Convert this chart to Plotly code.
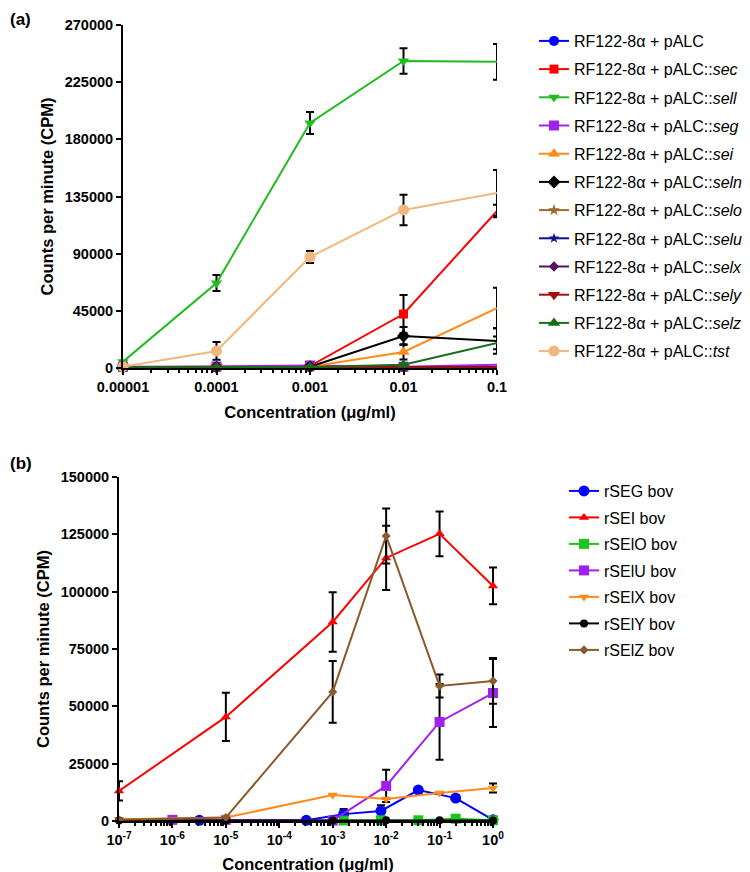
import plotly.graph_objects as go

# panel (a): recombinant strains, concentrations in ug/ml
conc_a = [0.00001, 0.0001, 0.001, 0.01, 0.1]
conc_a_labels = ['0.00001', '0.0001', '0.001', '0.01', '0.1']

palc = [800, 900, 1000, 500, 800]
palc_sec = [500, 800, 1500, 42500, 123600]
palc_sec_err = [0, 0, 0, 15000, 5000]
palc_sell = [5000, 66900, 192900, 241700, 241000]
palc_sell_err = [0, 6300, 8700, 10000, 14000]
palc_seg = [1000, 1200, 2000, 1000, 2500]
palc_sei = [500, 500, 1000, 12600, 47200]
palc_sei_err = [0, 0, 0, 6000, 16000]
palc_seln = [500, 500, 1000, 25200, 21300]
palc_seln_err = [0, 0, 0, 7000, 10000]
palc_selo = [500, 500, 800, 500, 500]
palc_selu = [500, 500, 500, 500, 500]
palc_selx = [500, 500, 600, 500, 500]
palc_sely = [500, 500, 600, 500, 500]
palc_selz = [500, 500, 800, 2500, 19700]
palc_selz_err = [0, 0, 0, 0, 5000]
palc_tst = [1000, 13400, 87400, 124400, 137800]
palc_tst_err = [0, 7000, 4700, 12000, 18000]

# panel (b): purified recombinant toxins
conc_b = [1e-7, 1e-5, 1e-3, 1e-2, 1e-1, 1]
conc_b_ticks = [1e-7, 1e-6, 1e-5, 1e-4, 1e-3, 1e-2, 1e-1, 1]
conc_b_labels = ['10<sup>-7</sup>', '10<sup>-6</sup>', '10<sup>-5</sup>', '10<sup>-4</sup>',
                 '10<sup>-3</sup>', '10<sup>-2</sup>', '10<sup>-1</sup>', '10<sup>0</sup>']

seg_conc = [3.2e-6, 3.2e-4, 1.6e-3, 8e-3, 0.04, 0.2, 1]
seg_bov = [300, 300, 3000, 4400, 13500, 10000, 500]
seg_bov_err = [0, 0, 2200, 2500, 0, 0, 0]
sei_bov = [13100, 45400, 86800, 114700, 125200, 102500]
sei_bov_err = [4200, 10500, 13000, 14000, 9800, 8000]
selo_conc = [1.6e-3, 8e-3, 0.04, 0.2, 1]
selo_bov = [200, 300, 300, 1000, 300]
selu_conc = [1e-6, 1e-5, 1e-3, 1e-2, 1e-1, 1]
selu_bov = [500, 500, 200, 15300, 43200, 55800]
selu_bov_err = [0, 0, 0, 7000, 16500, 14800]
selx_bov = [800, 1500, 11300, 9600, 12200, 14400]
selx_bov_err = [0, 0, 0, 0, 0, 2000]
sely_bov = [200, 200, 200, 300, 300, 200]
selz_bov = [500, 1500, 56300, 124300, 58900, 61100]
selz_bov_err = [0, 0, 13500, 12000, 5000, 10000]

FONT = 'Liberation Sans, Arial, sans-serif'
prefix = 'RF122-8\u03b1 + pALC'

series_a = [
    (prefix, palc, None, '#0000FF', 'circle', 10),
    (prefix + '::<i>sec</i>', palc_sec, palc_sec_err, '#FF0000', 'square', 9),
    (prefix + '::<i>sell</i>', palc_sell, palc_sell_err, '#22BB22', 'triangle-down', 10),
    (prefix + '::<i>seg</i>', palc_seg, None, '#A020F0', 'square', 10),
    (prefix + '::<i>sei</i>', palc_sei, palc_sei_err, '#FF8C1A', 'triangle-up', 11),
    (prefix + '::<i>seln</i>', palc_seln, palc_seln_err, '#000000', 'diamond', 10),
    (prefix + '::<i>selo</i>', palc_selo, None, '#9B6A2E', 'star', 9),
    (prefix + '::<i>selu</i>', palc_selu, None, '#101080', 'star', 8),
    (prefix + '::<i>selx</i>', palc_selx, None, '#5A1060', 'diamond', 8),
    (prefix + '::<i>sely</i>', palc_sely, None, '#A01010', 'triangle-down', 11),
    (prefix + '::<i>selz</i>', palc_selz, palc_selz_err, '#1B6B1B', 'triangle-up', 11),
    (prefix + '::<i>tst</i>', palc_tst, palc_tst_err, '#F2B77D', 'circle', 11),
]

series_b = [
    ('rSEG bov', seg_conc, seg_bov, seg_bov_err, '#0000FF', 'circle', 11),
    ('rSEI bov', conc_b, sei_bov, sei_bov_err, '#FF0000', 'triangle-up', 9),
    ('rSElO bov', selo_conc, selo_bov, None, '#1CC41C', 'square', 10),
    ('rSElU bov', selu_conc, selu_bov, selu_bov_err, '#A020F0', 'square', 10),
    ('rSElX bov', conc_b, selx_bov, selx_bov_err, '#FF8C1A', 'triangle-down', 9),
    ('rSElY bov', conc_b, sely_bov, None, '#000000', 'circle', 8),
    ('rSElZ bov', conc_b, selz_bov, selz_bov_err, '#8B5A2B', 'diamond', 7),
]


def err_dict(err):
    if err is None:
        return None
    return dict(type='data', array=err, visible=True, color='black', thickness=2, width=4)


fig = go.Figure()

for i, (name, vals, err, color, symbol, size) in enumerate(series_a):
    fig.add_trace(go.Scatter(
        x=conc_a, y=vals, name=name, mode='lines+markers',
        line=dict(color=color, width=2),
        marker=dict(color=color, symbol=symbol, size=size),
        error_y=err_dict(err), cliponaxis=False,
        xaxis='x', yaxis='y', legend='legend', legendgroup='a%d' % i,
    ))

for i, (name, xs, vals, err, color, symbol, size) in enumerate(series_b):
    fig.add_trace(go.Scatter(
        x=xs, y=vals, name=name, mode='lines+markers',
        line=dict(color=color, width=2),
        marker=dict(color=color, symbol=symbol, size=size),
        error_y=err_dict(err), cliponaxis=False,
        xaxis='x2', yaxis='y2', legend='legend2', legendgroup='b%d' % i,
    ))

W, H = 750, 872
OFF = 8  # the page body adds an 8px margin around the figure
tickfont = dict(family=FONT, size=14.5, color='black', weight='bold')
titlefont = dict(family=FONT, size=16.5, color='black', weight='bold')

axis_common = dict(
    showline=True, linecolor='black', linewidth=2, showgrid=False, zeroline=False,
    ticks='outside', ticklen=5, tickwidth=2, tickcolor='black', tickfont=tickfont,
    automargin=False,
)
minor_ticks = dict(dtick='D1', ticks='outside', ticklen=3, tickwidth=1.5, tickcolor='black')


def px_x(v):
    return (v - OFF) / W


def px_y(v):
    return 1 - (v - OFF) / H


fig.update_layout(
    width=W, height=H,
    margin=dict(l=0, r=0, t=0, b=0),
    paper_bgcolor='white', plot_bgcolor='white',
    font=dict(family=FONT, color='black'),
    xaxis=dict(
        axis_common, type='log', domain=[px_x(123), px_x(497)], range=[-5, -1],
        tickmode='array', tickvals=conc_a, ticktext=conc_a_labels, anchor='y',
        minor=minor_ticks,
        title=dict(text='Concentration (\u03bcg/ml)', font=titlefont, standoff=12),
    ),
    yaxis=dict(
        axis_common, domain=[px_y(368), px_y(25)], range=[0, 270000],
        tickmode='linear', tick0=0, dtick=45000, tickformat='d', anchor='x',
        title=dict(text='Counts per minute (CPM)', font=titlefont, standoff=7),
    ),
    xaxis2=dict(
        axis_common, type='log', domain=[px_x(119), px_x(497)], range=[-7, 0.075],
        tickmode='array', tickvals=conc_b_ticks, ticktext=conc_b_labels, anchor='y2',
        minor=minor_ticks,
        title=dict(text='Concentration (\u03bcg/ml)', font=titlefont, standoff=11),
    ),
    yaxis2=dict(
        axis_common, domain=[px_y(821), px_y(477)], range=[0, 150000],
        tickmode='linear', tick0=0, dtick=25000, tickformat='d', anchor='x2',
        title=dict(text='Counts per minute (CPM)', font=titlefont, standoff=7),
    ),
    legend=dict(
        x=px_x(534), y=px_y(24), xanchor='left', yanchor='top',
        font=dict(family=FONT, size=16, color='black'),
        bgcolor='rgba(0,0,0,0)', tracegroupgap=4.4,
    ),
    legend2=dict(
        x=px_x(564), y=px_y(474), xanchor='left', yanchor='top',
        font=dict(family=FONT, size=16, color='black'),
        bgcolor='rgba(0,0,0,0)', tracegroupgap=2.7,
    ),
    annotations=[
        dict(text='<b>(a)</b>', x=0, y=1, xref='paper', yref='paper',
             xanchor='left', yanchor='top', showarrow=False,
             font=dict(family=FONT, size=17, color='black')),
        dict(text='<b>(b)</b>', x=0, y=px_y(452), xref='paper', yref='paper',
             xanchor='left', yanchor='top', showarrow=False,
             font=dict(family=FONT, size=17, color='black')),
    ],
)

fig.write_html('out.html')
